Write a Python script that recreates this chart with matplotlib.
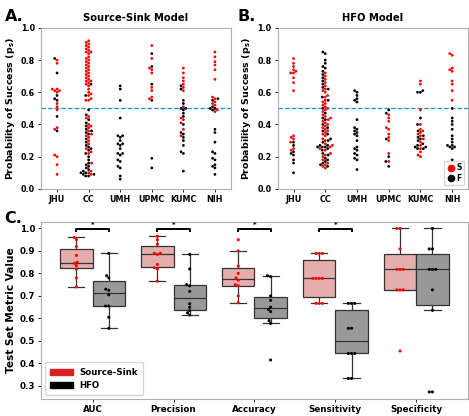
import numpy as np
import pandas as pd
import matplotlib
matplotlib.use("Agg")
import matplotlib.pyplot as plt
import seaborn as sns
from matplotlib.patches import Patch
from matplotlib.lines import Line2D

plt.rcParams['font.family'] = ['DejaVu Sans']
plt.rcParams['font.weight'] = 'bold'

sites = ["JHU", "CC", "UMH", "UPMC", "KUMC", "NIH"]

# panel A: source-sink model, probability of success per patient (S = success, F = failure)
ss_S = {
    "JHU": [0.80, 0.78, 0.62, 0.61, 0.61, 0.62, 0.60, 0.53, 0.51, 0.49, 0.38, 0.37, 0.21, 0.20, 0.15, 0.09],
    "CC": [0.92, 0.91, 0.90, 0.89, 0.88, 0.87, 0.86, 0.85, 0.85, 0.84, 0.82, 0.81, 0.80, 0.79, 0.78,
           0.77, 0.76, 0.75, 0.74, 0.73, 0.72, 0.71, 0.70, 0.69, 0.68, 0.67, 0.67, 0.66, 0.65, 0.64,
           0.62, 0.60, 0.59, 0.58, 0.56, 0.55, 0.55, 0.45, 0.44, 0.40, 0.39, 0.38, 0.36, 0.34, 0.33,
           0.32, 0.30, 0.28, 0.25, 0.23, 0.22, 0.16, 0.11, 0.10, 0.09],
    "UMH": [],
    "UPMC": [0.89, 0.81, 0.75, 0.74, 0.72, 0.63, 0.61, 0.57, 0.56],
    "KUMC": [0.75, 0.72, 0.69, 0.67, 0.65, 0.63, 0.61, 0.51, 0.44, 0.43, 0.41, 0.37, 0.33],
    "NIH": [0.85, 0.82, 0.79, 0.77, 0.74, 0.68, 0.57, 0.56, 0.54, 0.53, 0.52, 0.49, 0.48],
}
ss_F = {
    "JHU": [0.81, 0.72, 0.58, 0.56, 0.55, 0.45, 0.36],
    "CC": [0.65, 0.58, 0.49, 0.46, 0.43, 0.41, 0.39, 0.37, 0.36, 0.35, 0.34, 0.31, 0.29, 0.27, 0.26,
           0.25, 0.24, 0.22, 0.20, 0.18, 0.16, 0.15, 0.14, 0.13, 0.12, 0.11, 0.10, 0.09, 0.09, 0.08,
           0.08, 0.10],
    "UMH": [0.64, 0.62, 0.55, 0.44, 0.33, 0.33, 0.32, 0.30, 0.28, 0.28, 0.27, 0.25, 0.22, 0.22, 0.21,
            0.18, 0.17, 0.14, 0.13, 0.08, 0.06],
    "UPMC": [0.84, 0.76, 0.65, 0.55, 0.19, 0.13],
    "KUMC": [0.64, 0.62, 0.55, 0.53, 0.50, 0.50, 0.49, 0.47, 0.45, 0.40, 0.35, 0.34, 0.32, 0.30, 0.27,
             0.23, 0.22, 0.11],
    "NIH": [0.56, 0.55, 0.51, 0.50, 0.50, 0.49, 0.37, 0.35, 0.29, 0.23, 0.22, 0.19, 0.18, 0.15, 0.14,
            0.13, 0.09],
}

# panel B: HFO model
hfo_S = {
    "JHU": [0.81, 0.78, 0.76, 0.74, 0.73, 0.72, 0.72, 0.69, 0.66, 0.61, 0.33, 0.32, 0.31, 0.29, 0.25, 0.24],
    "CC": [0.72, 0.70, 0.68, 0.66, 0.64, 0.62, 0.61, 0.60, 0.58, 0.57, 0.55, 0.54, 0.53, 0.52, 0.51,
           0.50, 0.49, 0.48, 0.46, 0.45, 0.44, 0.43, 0.42, 0.41, 0.40, 0.39, 0.38, 0.37, 0.36, 0.35,
           0.34, 0.33, 0.31, 0.30, 0.28, 0.27, 0.26, 0.25, 0.24, 0.22, 0.21, 0.20, 0.18, 0.16, 0.15,
           0.14, 0.13],
    "UMH": [],
    "UPMC": [0.46, 0.44, 0.42, 0.38, 0.37, 0.34, 0.32, 0.30, 0.22, 0.17],
    "KUMC": [0.67, 0.65, 0.49, 0.40, 0.37, 0.36, 0.35, 0.34, 0.33, 0.31, 0.29, 0.27, 0.25, 0.23, 0.21, 0.20],
    "NIH": [0.84, 0.83, 0.75, 0.74, 0.73, 0.67, 0.65, 0.61, 0.55],
}
hfo_F = {
    "JHU": [0.29, 0.27, 0.23, 0.22, 0.21, 0.18, 0.16, 0.10],
    "CC": [0.85, 0.84, 0.80, 0.78, 0.76, 0.75, 0.73, 0.71, 0.69, 0.67, 0.65, 0.63, 0.62, 0.57, 0.55,
           0.50, 0.47, 0.44, 0.43, 0.40, 0.38, 0.36, 0.34, 0.31, 0.30, 0.29, 0.27, 0.27, 0.26, 0.26,
           0.26, 0.25, 0.24, 0.22, 0.21, 0.19, 0.18, 0.17, 0.16, 0.15, 0.14],
    "UMH": [0.61, 0.60, 0.58, 0.56, 0.55, 0.54, 0.43, 0.38, 0.37, 0.36, 0.35, 0.34, 0.33, 0.30, 0.26,
            0.25, 0.24, 0.22, 0.21, 0.19, 0.18, 0.12],
    "UPMC": [0.49, 0.47, 0.31, 0.20, 0.17, 0.14],
    "KUMC": [0.61, 0.60, 0.60, 0.44, 0.40, 0.36, 0.33, 0.32, 0.31, 0.30, 0.28, 0.27, 0.26, 0.26, 0.25, 0.25],
    "NIH": [0.50, 0.44, 0.42, 0.40, 0.37, 0.33, 0.31, 0.29, 0.27, 0.27, 0.26, 0.26, 0.25, 0.18],
}

# panel C: test-set metrics per fold
metrics = ["AUC", "Precision", "Accuracy", "Sensitivity", "Specificity"]
metric_ss = {
    "AUC": [0.74, 0.78, 0.82, 0.835, 0.845, 0.85, 0.88, 0.92, 0.95, 0.96],
    "Precision": [0.766, 0.82, 0.825, 0.84, 0.885, 0.89, 0.89, 0.93, 0.95, 0.966],
    "Accuracy": [0.67, 0.70, 0.745, 0.75, 0.77, 0.78, 0.80, 0.833, 0.90, 0.95],
    "Sensitivity": [0.667, 0.667, 0.667, 0.778, 0.778, 0.778, 0.778, 0.889, 0.889, 0.889],
    "Specificity": [0.455, 0.727, 0.727, 0.727, 0.818, 0.818, 0.818, 0.909, 1.0, 1.0],
}
metric_hfo = {
    "AUC": [0.556, 0.605, 0.655, 0.655, 0.705, 0.725, 0.73, 0.78, 0.79, 0.889],
    "Precision": [0.615, 0.625, 0.635, 0.65, 0.665, 0.72, 0.745, 0.75, 0.82, 0.885],
    "Accuracy": [0.415, 0.578, 0.59, 0.63, 0.64, 0.65, 0.68, 0.70, 0.786, 0.79],
    "Sensitivity": [0.333, 0.333, 0.444, 0.444, 0.444, 0.556, 0.556, 0.667, 0.667, 0.667],
    "Specificity": [0.273, 0.273, 0.636, 0.727, 0.818, 0.818, 0.818, 0.909, 0.909, 1.0],
}
significant = ["AUC", "Precision", "Accuracy", "Sensitivity"]


def site_frame(succ, fail):
    rows = []
    for s in sites:
        rows += [(s, v, "S") for v in succ[s]]
        rows += [(s, v, "F") for v in fail[s]]
    return pd.DataFrame(rows, columns=["site", "ps", "outcome"])


def swarm_panel(ax, df, title):
    sns.swarmplot(data=df, x="site", y="ps", hue="outcome", order=sites,
                  palette={"S": "red", "F": "black"}, size=2.0, ax=ax, legend=False)
    ax.axhline(0.5, color="#1f8fe0", ls="--", lw=0.9)
    ax.set_ylim(0, 1.0)
    ax.set_yticks(np.arange(0, 1.01, 0.2))
    ax.set_xlabel("")
    ax.set_ylabel("Probability of Success (p$_\\mathbf{s}$)", fontsize=6.8, fontweight="bold", labelpad=3)
    ax.set_title(title, fontsize=7.2, fontweight="bold", pad=5)
    ax.tick_params(labelsize=5.8, length=2.5, width=0.6, pad=2)
    for sp in ax.spines.values():
        sp.set_color("#b0b0b0")


fig = plt.figure(figsize=(4.69, 4.16), dpi=100)
axA = fig.add_axes([0.088, 0.546, 0.404, 0.387])
axB = fig.add_axes([0.592, 0.546, 0.406, 0.387])
axC = fig.add_axes([0.087, 0.04, 0.911, 0.427])

swarm_panel(axA, site_frame(ss_S, ss_F), "Source-Sink Model")
swarm_panel(axB, site_frame(hfo_S, hfo_F), "HFO Model")
axB.legend(handles=[Line2D([], [], marker="o", ls="", color="red", markersize=4.5, label="S"),
                    Line2D([], [], marker="o", ls="", color="black", markersize=4.5, label="F")],
           loc="lower right", fontsize=5.5, handletextpad=0.1, borderpad=0.3, labelspacing=0.2,
           handlelength=1.2)

# panel C
rows = []
for m in metrics:
    rows += [(m, "Source-Sink", v) for v in metric_ss[m]]
    rows += [(m, "HFO", v) for v in metric_hfo[m]]
dfC = pd.DataFrame(rows, columns=["metric", "model", "value"])

sns.boxplot(data=dfC, x="metric", y="value", hue="model", order=metrics,
            palette={"Source-Sink": "#f0a3a3", "HFO": "#999999"}, showfliers=False,
            linecolor="#333333", linewidth=0.9, ax=axC, legend=False)
sns.swarmplot(data=dfC, x="metric", y="value", hue="model", order=metrics, dodge=True,
              palette={"Source-Sink": "red", "HFO": "black"}, size=2.2, ax=axC, legend=False)

for i, m in enumerate(metrics):
    if m in significant:
        axC.plot([i - 0.2, i - 0.2, i + 0.2, i + 0.2], [0.987, 0.997, 0.997, 0.987], color="black", lw=1.4)
        axC.text(i, 1.002, "*", ha="center", va="bottom", fontsize=5)

axC.set_ylim(0.24, 1.03)
axC.set_yticks(np.arange(0.3, 1.01, 0.1))
axC.set_xlabel("")
axC.set_ylabel("Test Set Metric Value", fontsize=7.6, fontweight="bold", labelpad=3)
axC.tick_params(labelsize=6.3, length=2.5, width=0.6, pad=1.5)
for sp in axC.spines.values():
    sp.set_color("#b0b0b0")
axC.legend(handles=[Patch(color="#e02020", label="Source-Sink"), Patch(color="black", label="HFO")],
           loc="lower left", fontsize=6.2, handlelength=2.6, borderpad=0.6, labelspacing=0.5)

for ax in (axA, axB, axC):
    for lab in ax.get_xticklabels() + ax.get_yticklabels():
        lab.set_fontweight("bold")

fig.text(0.01, 0.95, "A.", fontsize=11.5, fontweight="bold")
fig.text(0.507, 0.95, "B.", fontsize=11.5, fontweight="bold")
fig.text(0.01, 0.465, "C.", fontsize=11.5, fontweight="bold")

fig.savefig("out.png", dpi=100)
